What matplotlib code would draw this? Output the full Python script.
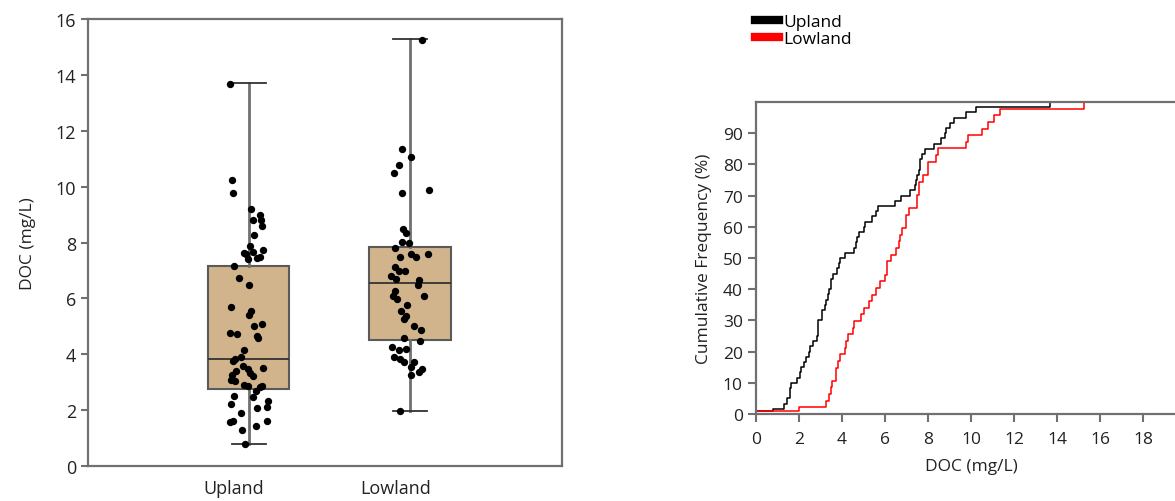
import numpy as np
import matplotlib
matplotlib.use('Agg')
import matplotlib.pyplot as plt
from matplotlib.lines import Line2D

plt.rcParams['font.family'] = ['Open Sans', 'DejaVu Sans']

# DOC 测定值 (mg/L) 及散点的水平抖动
upland = [13.67, 10.24, 9.78, 9.2, 9.0, 8.8, 8.82, 8.6, 8.28, 7.87, 7.73, 7.62, 7.59, 7.65,
          7.44, 7.47, 7.41, 7.15, 6.73, 6.48, 5.68, 5.56, 5.40, 5.02, 5.08, 4.78, 4.72, 4.66,
          4.57, 4.16, 3.85, 3.77, 3.89, 3.50, 3.59, 3.41, 3.47, 3.33, 3.26, 3.21, 3.09, 3.05,
          2.90, 2.87, 2.82, 2.87, 2.67, 2.49, 2.48, 2.22, 2.34, 2.10, 2.06, 1.89, 1.56, 1.62,
          1.60, 1.44, 1.30, 0.79]
upland_jit = [-0.117, -0.10, -0.096, 0.014, 0.071, 0.025, 0.077, 0.081, 0.031, 0.008, 0.088,
              -0.031, -0.013, 0.029, 0.05, 0.071, -0.002, -0.092, -0.061, 0.004, -0.106, 0.014,
              0.004, 0.033, 0.081, -0.113, -0.071, 0.05, 0.056, -0.027, -0.086, -0.096, -0.048,
              0.088, -0.033, -0.079, -0.006, 0.008, -0.10, 0.029, -0.111, -0.086, -0.027,
              -0.002, 0.071, 0.081, 0.044, -0.092, 0.025, -0.106, 0.119, 0.113, 0.052, -0.048,
              -0.117, -0.096, 0.113, 0.044, -0.038, -0.023]
lowland = [15.26, 11.37, 11.08, 10.77, 10.49, 9.78, 9.88, 8.48, 8.36, 8.01, 7.98, 7.79, 7.48,
           7.58, 7.50, 7.58, 7.11, 6.99, 6.99, 6.79, 6.69, 6.67, 6.49, 6.27, 6.10, 5.98, 6.10,
           5.76, 5.56, 5.38, 5.26, 5.00, 4.88, 4.57, 4.49, 4.27, 4.15, 4.19, 3.89, 3.83, 3.71,
           3.71, 3.53, 3.47, 3.38, 3.26, 1.98]
lowland_jit = [0.075, -0.048, 0.008, -0.069, -0.102, -0.048, 0.117, -0.044, -0.027, -0.048,
               -0.008, -0.096, -0.061, 0.008, 0.036, 0.108, -0.092, -0.071, -0.033, -0.117,
               -0.089, 0.052, 0.048, -0.096, -0.106, -0.079, 0.083, -0.019, -0.054, -0.027,
               -0.039, 0.023, 0.067, -0.039, 0.061, -0.113, -0.069, -0.023, -0.102, -0.064,
               -0.037, 0.023, 0.008, 0.071, 0.056, 0.004, -0.064]

# 箱线图统计量
groups = ['Upland', 'Lowland']
whislo = [0.79, 1.98]
q1 = [2.76, 4.52]
med = [3.85, 6.57]
q3 = [7.17, 7.86]
whishi = [13.7, 15.3]

cdf_start = 1.0  # 累积曲线起点 (%)

fig = plt.figure(figsize=(11.75, 5.02), dpi=100)
grey = '#707070'

# 左图：箱线图 + 散点
ax1 = fig.add_axes([0.0749, 0.0697, 0.4034, 0.890])
stats = []
for i in range(2):
    stats.append({'whislo': whislo[i], 'q1': q1[i], 'med': med[i], 'q3': q3[i],
                  'whishi': whishi[i], 'fliers': [], 'label': groups[i]})
ax1.bxp(stats, positions=[1, 2], widths=0.505, patch_artist=True, showfliers=False,
        boxprops=dict(facecolor='#D2B48C', edgecolor='#5a5a5a', linewidth=1.5),
        medianprops=dict(color='#333333', linewidth=1.3),
        whiskerprops=dict(color=grey, linewidth=2),
        capprops=dict(color='#333333', linewidth=1.3), capwidths=0.21, zorder=1)
ax1.scatter(1 + np.array(upland_jit), upland, s=28, color='black', zorder=3, linewidths=0)
ax1.scatter(2 + np.array(lowland_jit), lowland, s=28, color='black', zorder=3, linewidths=0)
ax1.set_xlim(0.006, 2.94)
ax1.set_ylim(0, 16)
ax1.set_yticks(range(0, 17, 2))
ax1.set_xticks([0.91, 1.91])
ax1.set_xticklabels(groups, fontsize=13)
ax1.tick_params(axis='x', length=0, pad=9, colors='#222222')
ax1.tick_params(axis='y', length=5, width=1.5, color=grey, labelsize=13, labelcolor='#222222')
ax1.set_ylabel('DOC (mg/L)', fontsize=12.5, color='#222222', labelpad=14)
for s in ax1.spines.values():
    s.set_color(grey)
    s.set_linewidth(1.6)

# 右图：累积频率曲线（阶梯）
ax2 = fig.add_axes([0.6434, 0.1733, 0.366, 0.6215])
for vals, col, name in [(upland, 'black', 'Upland'), (lowland, 'red', 'Lowland')]:
    v = np.sort(vals)
    pct = np.arange(1, len(v) + 1) / len(v) * 100
    ax2.plot(np.concatenate([[0], v]), np.concatenate([[cdf_start], pct]),
             color=col, linewidth=1.1, label=name, drawstyle='steps-post')
ax2.set_xlim(0, 20)
ax2.set_ylim(0, 100)
ax2.set_xticks(range(0, 19, 2))
ax2.set_yticks(range(0, 91, 10))
ax2.tick_params(length=6, width=1.5, color=grey, labelsize=12.5, labelcolor='#222222')
ax2.tick_params(axis='x', pad=6)
ax2.set_xlabel('DOC (mg/L)', fontsize=12.5, color='#222222', labelpad=8)
ax2.set_ylabel('Cumulative Frequency (%)', fontsize=12.5, color='#222222', labelpad=8)
for s in ax2.spines.values():
    s.set_color(grey)
    s.set_linewidth(1.6)

handles = [Line2D([], [], color='black', linewidth=6), Line2D([], [], color='red', linewidth=6)]
fig.legend(handles, groups, loc='upper left', bbox_to_anchor=(0.632, 0.995), frameon=False,
           fontsize=12.5, handlelength=1.4, handletextpad=0.25, labelspacing=0.05,
           borderpad=0.2)

fig.savefig('out.png', dpi=100)
